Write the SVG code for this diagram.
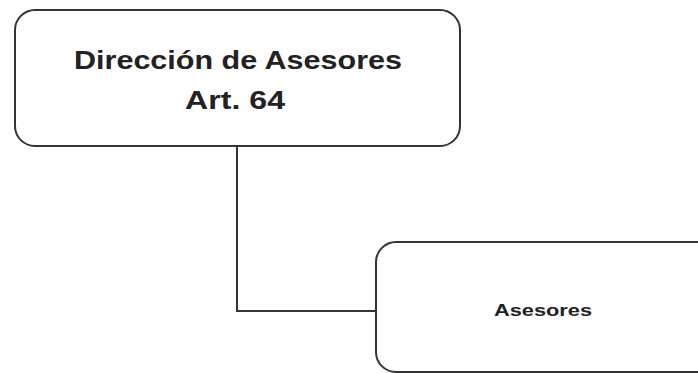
<svg xmlns="http://www.w3.org/2000/svg" width="698" height="374" viewBox="0 0 698 374">
<style>
.box{fill:#fff;stroke:#333;stroke-width:2}
.t{font-family:"Liberation Sans",Arial,sans-serif;font-weight:bold;fill:#222;text-anchor:middle}
.conn{fill:none;stroke:#333;stroke-width:2}
</style>
<rect width="698" height="374" fill="#fff"/>
<g id="connectors">
<path class="conn" d="M237 146 V311 H376"/>
</g>
<g id="node-direccion">
<rect class="box" x="15" y="10" width="445" height="136" rx="20"/>
<text class="t" x="238" y="69" font-size="26" textLength="328" lengthAdjust="spacingAndGlyphs">Dirección de Asesores</text>
<text class="t" x="235" y="109" font-size="26" textLength="100" lengthAdjust="spacingAndGlyphs">Art. 64</text>
</g>
<g id="node-asesores">
<rect class="box" x="376" y="242" width="340" height="130" rx="20"/>
<text class="t" x="543" y="316" font-size="17" textLength="98" lengthAdjust="spacingAndGlyphs">Asesores</text>
</g>
</svg>
